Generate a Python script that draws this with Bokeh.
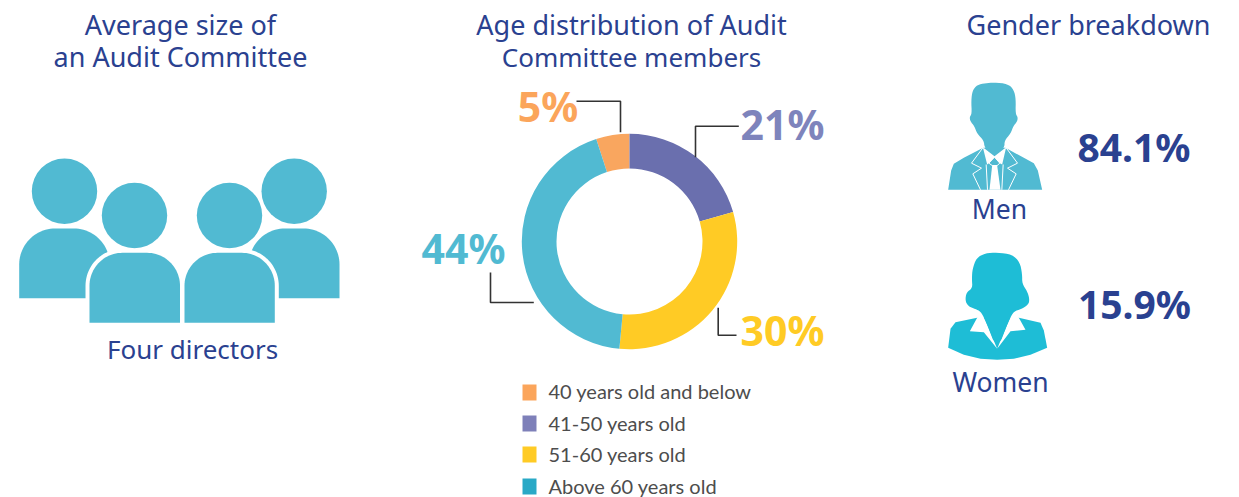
from bokeh.plotting import figure
from bokeh.embed import file_html
from bokeh.resources import INLINE
from bokeh.core.properties import value
from bokeh.models import Range1d
import numpy as np

age_categories = ["40 years old and below", "41-50 years old", "51-60 years old", "Above 60 years old"]
age_labels = ["5%", "21%", "30%", "44%"]
age_values = [5.0, 20.6, 30.9, 43.5]
age_colors = ["#F9A65F", "#6A6FAE", "#FFCB25", "#51BAD2"]
label_colors = ["#FBA55B", "#7E84BC", "#FFCB25", "#51BAD2"]
legend_colors = ["#FBA55B", "#7E80B9", "#FFCB25", "#29A9C6"]
men_share = "84.1%"
women_share = "15.9%"

NAVY = "#2A4190"
TEAL = "#51BAD2"
AQUA = "#1EBDD6"
FONT = "Noto Sans"
LEG_FONT = "Lato"

p = figure(width=1239, height=497, output_backend="svg", toolbar_location=None,
           x_range=Range1d(0, 1239), y_range=Range1d(0, 497), min_border=0,
           outline_line_color=None, background_fill_color="white")
p.axis.visible = False
p.grid.visible = False


def Y(py):
    return 497 - np.asarray(py, dtype=float)


def txt(x, y, s, size, color, bold=False, align="center", font=FONT):
    p.text([x], [Y(y - 0.4 * size)], text=[s], text_font=value(font), text_font_size=f"{size}px",
           text_color=color, text_align=align, text_baseline="alphabetic",
           text_font_style="bold" if bold else "normal")


def rounded_body(x0, x1, top, bottom, r):
    t = np.linspace(0, np.pi / 2, 24)
    xs = list(x0 + r - r * np.cos(t)) + list(x1 - r + r * np.sin(t)) + [x1, x0]
    ys = list(top + r - r * np.sin(t)) + list(top + r - r * np.cos(t)) + [bottom, bottom]
    return xs, list(Y(ys))


def chaikin(pts, n=2):
    pts = np.asarray(pts, dtype=float)
    for _ in range(n):
        nxt = np.roll(pts, -1, axis=0)
        pts = np.column_stack([0.75 * pts + 0.25 * nxt, 0.25 * pts + 0.75 * nxt]).reshape(-1, 2)
    return pts


def poly(pts, ox, oy, color, smooth=False):
    pts = np.asarray(pts, dtype=float)
    if smooth:
        pts = chaikin(pts)
    p.patch(ox + pts[:, 0] / 3, Y(oy + pts[:, 1] / 3), fill_color=color, line_color=None)


# Titles
for s, x, y, size in [("Average size of", 180, 35, 27), ("an Audit Committee", 180, 67, 27),
                      ("Age distribution of Audit", 631, 35, 27), ("Committee members", 631, 67, 26),
                      ("Gender breakdown", 1088, 35, 27)]:
    txt(x, y, s, size, NAVY)

# Four directors icon
for hx, hy in [(64, 190.7), (293.7, 190.7), (134, 215), (229, 215)]:
    p.circle([hx], [Y(hy)], radius=32.7, fill_color=TEAL, line_color=None)
for x0, x1 in [(18.7, 109.3), (248.4, 339)]:
    xs, ys = rounded_body(x0, x1, 228, 297.7, 36)
    p.patch(xs, ys, fill_color=TEAL, line_color=None)
for x0, x1 in [(89, 179.5), (184, 274.3)]:
    xs, ys = rounded_body(x0, x1, 252.3, 322.3, 33)
    p.patch(xs, ys, fill_color="white", line_color="white", line_width=8)
for x0, x1 in [(89, 179.5), (184, 274.3)]:
    xs, ys = rounded_body(x0, x1, 252.3, 322.3, 33)
    p.patch(xs, ys, fill_color=TEAL, line_color=None)
txt(192, 359, "Four directors", 26, NAVY)

# Donut
cx, cy = 629, 241
cum = -age_values[0] / 100 * 360
for v, c in zip(age_values, age_colors):
    a0 = np.pi / 2 - np.radians(cum)
    a1 = np.pi / 2 - np.radians(cum + v / 100 * 360)
    p.annular_wedge([cx], [Y(cy)], inner_radius=73, outer_radius=107.7, start_angle=a1, end_angle=a0,
                     fill_color=c, line_color=None)
    cum += v / 100 * 360

# Leader lines
for xs, ys in [([576, 620, 620], [100.7, 100.7, 131.7]),
               ([738.3, 695, 695], [125.7, 125.7, 156.7]),
               ([717.7, 717.7, 736], [307.3, 334.7, 334.7]),
               ([490, 490, 533.3], [272, 302, 302])]:
    p.line(xs, Y(ys), line_color="#333333", line_width=1.6)

for s, c, x, y in zip(age_labels, label_colors, [547.5, 782, 782, 463], [122, 140, 345.7, 264]):
    txt(x, y, s, 41, c, bold=True)

# Legend
for name, c, yc, base in zip(age_categories, legend_colors, [392, 423, 454, 486], [398.5, 430, 461, 493]):
    p.rect([529], [Y(yc)], width=14, height=16, fill_color=c, line_color=None)
    txt(548, base, name, 20, "#4D4D4D", align="left", font=LEG_FONT)

# Man icon
ox, oy = 930, 70
man_body = [(158, 232), (100, 262), (70, 280), (62, 300), (53, 358), (335, 358), (322, 300), (310, 278), (280, 262), (225, 232)]
man_head = [(190, 36), (165, 38), (140, 43), (126, 60), (122, 90), (124, 130), (117, 140), (120, 153), (131, 166),
            (140, 190), (160, 210), (162, 232), (190, 262), (222, 232), (222, 210), (240, 190), (249, 166),
            (260, 153), (262, 140), (255, 130), (256, 85), (250, 58), (232, 40)]
poly(man_body, ox, oy, TEAL)
poly(man_head, ox, oy, TEAL, smooth=True)
o2x, o2y = 945, 140
poly([(112, 20), (147, 47), (182, 20), (170, 72), (163, 68), (147, 50), (130, 68), (125, 72)], o2x, o2y, "white")
poly([(140, 75), (132, 148), (165, 148), (155, 75)], o2x, o2y, "white")
for line in [[(112, 22), (78, 68), (108, 83), (82, 100), (105, 148)],
             [(182, 22), (216, 68), (186, 83), (212, 100), (189, 148)],
             [(122, 72), (126, 148)], [(173, 72), (169, 148)],
             [(130, 68), (147, 50), (163, 68), (155, 75), (140, 75), (130, 68)]]:
    a = np.asarray(line, dtype=float)
    p.line(o2x + a[:, 0] / 3, Y(o2y + a[:, 1] / 3), line_color="white", line_width=1)
txt(999, 219, "Men", 26.5, NAVY)
txt(1133.5, 161.7, men_share, 39, NAVY, bold=True)

# Woman icon
ox, oy = 930, 240
woman_body = [(140, 232), (75, 245), (60, 265), (53, 322), (100, 343), (150, 355), (200, 358), (250, 355), (300, 343),
              (350, 322), (340, 270), (330, 247), (265, 232)]
woman_head = [(200, 36), (165, 38), (138, 52), (126, 85), (124, 115), (126, 143), (108, 155), (104, 180), (113, 197),
              (135, 206), (150, 212), (165, 240), (200, 330), (235, 240), (250, 212), (272, 206), (294, 192), (297, 175),
              (290, 152), (275, 130), (275, 100), (268, 65), (245, 42)]
poly(woman_body, ox, oy, AQUA)
poly([(140, 232), (118, 272), (160, 275), (200, 325), (165, 240), (150, 212)], ox, oy, "white")
poly([(265, 232), (285, 268), (240, 272), (200, 325), (235, 240), (250, 212)], ox, oy, "white")
poly(woman_head, ox, oy, AQUA, smooth=True)
txt(1000, 392, "Women", 26.5, NAVY)
txt(1134, 319, women_share, 39, NAVY, bold=True)

open("out.html", "w").write(file_html(p, INLINE))
